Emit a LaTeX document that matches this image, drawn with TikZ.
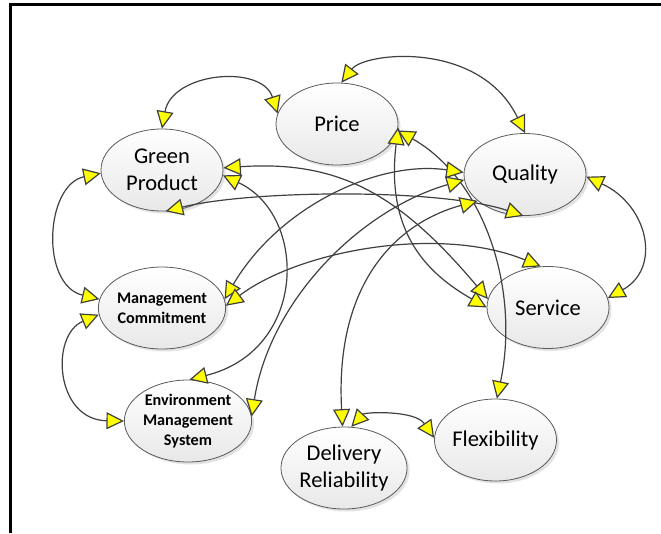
\documentclass[tikz,border=0pt]{standalone}
\usepackage{fontspec}
\setmainfont{Carlito}
\usetikzlibrary{arrows.meta,shadows,shapes.geometric}
\definecolor{linegray}{HTML}{404040}
\definecolor{rimgray}{HTML}{5A5A5A}
\definecolor{tipyellow}{HTML}{FFFF00}
\tikzset{
  factor/.style={ellipse, draw=rimgray, line width=0.8pt,
    top color=white, bottom color=black!9, shading angle=0,
    minimum width=122pt, minimum height=82pt, inner sep=0pt,
    align=center, text=black,
    drop shadow={opacity=0.22, shadow xshift=2.5pt, shadow yshift=-2.5pt},
    font=\fontsize{22.5}{27}\selectfont},
  smallfactor/.style={factor, font=\fontsize{16.2}{20}\selectfont\bfseries},
  link/.style={draw=linegray, line width=1.2pt,
    >={Triangle[length=17.5pt,width=17pt,fill=tipyellow]}, <->},
  frame/.style={draw=black, line width=2.5pt}
}
\begin{document}
\begin{tikzpicture}[x=1pt,y=-1pt]
  \useasboundingbox (0,0) rectangle (661,533);
  \fill[white] (0,0) rectangle (661,533);
  \draw[frame] (10.5,533) -- (10.5,4.5) -- (661,4.5);

  % factors
  \node[factor] (price)   at (337,124)   {Price};
  \node[factor] (gp)      at (162,170)   {Green\\Product};
  \node[factor] (quality) at (525,174.5) {Quality};
  \node[smallfactor] (mgmt) at (162,308) {Management\\Commitment};
  \node[factor] (service) at (548,307.5) {Service};
  \node[smallfactor] (ems)  at (188,421) {Environment\\Management\\System};
  \node[factor] (flex)    at (495.5,440) {Flexibility};
  \node[factor] (deliv)   at (344,468)   {Delivery\\Reliability};

  % links around the outside
  \draw[link] (price.84) .. controls (365,52) and (480,40) .. (quality.90);
  \draw[link] (gp.90) .. controls (172,72) and (262,64) .. (price.170);
  \draw[link] (quality.-2) .. controls (648,205) and (662,268) .. (service.9);
  \draw[link] (gp.183) .. controls (45,185) and (40,285) .. (mgmt.172);
  \draw[link] (mgmt.186) .. controls (50,335) and (55,420) .. (ems.180);
  \draw[link] (deliv.80) .. controls (365,412) and (415,410) .. (flex.178);

  % links across the middle
  \draw[link] (gp.-85) .. controls (250,190) and (440,188) .. (quality.-92);
  \draw[link] (gp.2) .. controls (340,160) and (400,195) .. (service.172);
  \draw[link] (gp.-5) .. controls (308,215) and (308,350) .. (ems.88);
  \draw[link] (price.-3) .. controls (385,235) and (430,275) .. (service.180);
  \draw[link] (price.-6) .. controls (485,180) and (520,290) .. (flex.88);
  \draw[link] (quality.178) .. controls (380,160) and (280,205) .. (mgmt.8);
  \draw[link] (quality.185) .. controls (360,210) and (270,300) .. (ems.4);
  \draw[link] (quality.209) .. controls (390,225) and (335,290) .. (deliv.92);
  \draw[link] (mgmt.2) .. controls (300,250) and (440,225) .. (service.100);
\end{tikzpicture}
\end{document}
